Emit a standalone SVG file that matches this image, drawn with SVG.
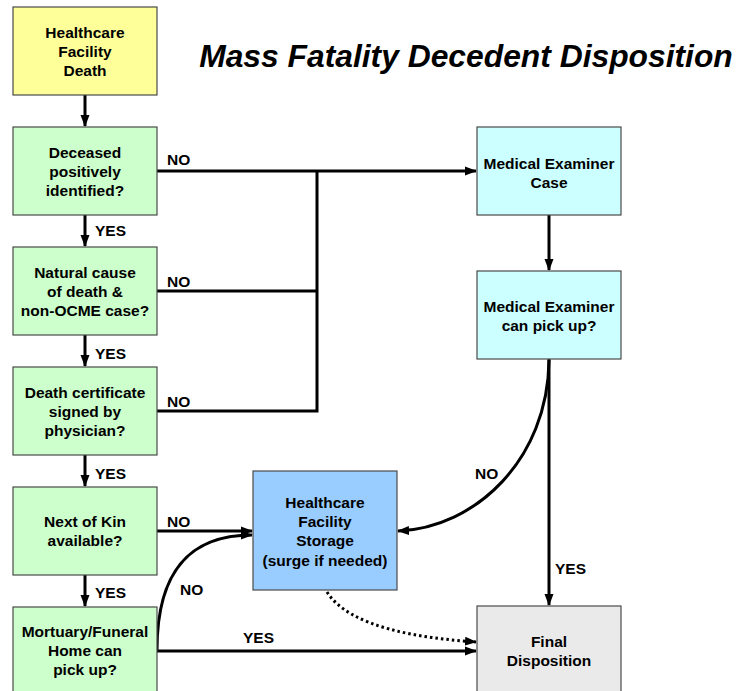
<svg xmlns="http://www.w3.org/2000/svg" width="740" height="691" viewBox="0 0 740 691">
<style>
.box{stroke:#4a4a4a;stroke-width:1.2}
.t{font-family:"Liberation Sans",Arial,sans-serif;font-weight:bold;font-size:15.5px;fill:#000;text-anchor:middle}
.l{font-family:"Liberation Sans",Arial,sans-serif;font-weight:bold;font-size:15.5px;fill:#000}
.c{fill:none;stroke:#000;stroke-width:3}
.title{font-family:"Liberation Sans",Arial,sans-serif;font-weight:bold;font-style:italic;font-size:31.8px;fill:#000;text-anchor:middle}
</style>
<defs>
<marker id="ah" markerUnits="userSpaceOnUse" markerWidth="12" markerHeight="12" viewBox="0 0 12 12" refX="11" refY="6" orient="auto">
<path d="M0,1.5 L12,6 L0,10.5 Z" fill="#000"/>
</marker>
</defs>
<rect width="740" height="691" fill="#fff"/>
<text class="title" x="466" y="67">Mass Fatality Decedent Disposition</text>

<g id="connectors">
<line class="c" x1="85" y1="95" x2="85" y2="126" marker-end="url(#ah)"/>
<line class="c" x1="85" y1="215" x2="85" y2="246" marker-end="url(#ah)"/>
<line class="c" x1="85" y1="335" x2="85" y2="366" marker-end="url(#ah)"/>
<line class="c" x1="85" y1="455" x2="85" y2="486" marker-end="url(#ah)"/>
<line class="c" x1="85" y1="575" x2="85" y2="606" marker-end="url(#ah)"/>
<line class="c" x1="157" y1="171" x2="476" y2="171" marker-end="url(#ah)"/>
<polyline class="c" points="157,291 317,291"/>
<polyline class="c" points="157,411 317,411 317,171"/>
<line class="c" x1="549" y1="215" x2="549" y2="270" marker-end="url(#ah)"/>
<line class="c" x1="549" y1="359" x2="549" y2="605" marker-end="url(#ah)"/>
<path class="c" d="M549,360 C548,460 475,528 398,531" marker-end="url(#ah)"/>
<line class="c" x1="157" y1="531" x2="252" y2="531" marker-end="url(#ah)"/>
<path class="c" d="M157,650 C157,565 195,535 252,535" marker-end="url(#ah)"/>
<line class="c" x1="157" y1="651" x2="476" y2="651" marker-end="url(#ah)"/>
<path class="c" d="M327,592 C350,628 420,638 476,642" stroke-dasharray="2.5,3" marker-end="url(#ah)"/>
<text class="l" x="95" y="236">YES</text>
<text class="l" x="95" y="359">YES</text>
<text class="l" x="95" y="479">YES</text>
<text class="l" x="95" y="598">YES</text>
<text class="l" x="167" y="165">NO</text>
<text class="l" x="167" y="287">NO</text>
<text class="l" x="167" y="407">NO</text>
<text class="l" x="167" y="527">NO</text>
<text class="l" x="180" y="595">NO</text>
<text class="l" x="243" y="643">YES</text>
<text class="l" x="475" y="479">NO</text>
<text class="l" x="555" y="574">YES</text>
</g>

<g id="n1"><rect class="box" x="13" y="7" width="144" height="88" fill="#ffff99"/>
<text class="t" x="85" y="38">Healthcare</text><text class="t" x="85" y="57">Facility</text><text class="t" x="85" y="76">Death</text></g>
<g id="n2"><rect class="box" x="13" y="127" width="144" height="88" fill="#ccffcc"/>
<text class="t" x="85" y="158">Deceased</text><text class="t" x="85" y="177">positively</text><text class="t" x="85" y="196">identified?</text></g>
<g id="n3"><rect class="box" x="13" y="247" width="144" height="88" fill="#ccffcc"/>
<text class="t" x="85" y="278">Natural cause</text><text class="t" x="85" y="297">of death &amp;</text><text class="t" x="85" y="316">non-OCME case?</text></g>
<g id="n4"><rect class="box" x="13" y="367" width="144" height="88" fill="#ccffcc"/>
<text class="t" x="85" y="398">Death certificate</text><text class="t" x="85" y="417">signed by</text><text class="t" x="85" y="436">physician?</text></g>
<g id="n5"><rect class="box" x="13" y="487" width="144" height="88" fill="#ccffcc"/>
<text class="t" x="85" y="527">Next of Kin</text><text class="t" x="85" y="546">available?</text></g>
<g id="n6"><rect class="box" x="13" y="607" width="144" height="90" fill="#ccffcc"/>
<text class="t" x="85" y="637">Mortuary/Funeral</text><text class="t" x="85" y="656">Home can</text><text class="t" x="85" y="675">pick up?</text></g>
<g id="n7"><rect class="box" x="477" y="127" width="144" height="88" fill="#ccffff"/>
<text class="t" x="549" y="169">Medical Examiner</text><text class="t" x="549" y="188">Case</text></g>
<g id="n8"><rect class="box" x="477" y="271" width="144" height="88" fill="#ccffff"/>
<text class="t" x="549" y="312">Medical Examiner</text><text class="t" x="549" y="331">can pick up?</text></g>
<g id="n9"><rect class="box" x="253" y="471" width="144" height="119" fill="#99ccff"/>
<text class="t" x="325" y="508">Healthcare</text><text class="t" x="325" y="527">Facility</text><text class="t" x="325" y="546">Storage</text><text class="t" x="325" y="566">(surge if needed)</text></g>
<g id="n10"><rect class="box" x="477" y="606" width="144" height="90" fill="#eaeaea"/>
<text class="t" x="549" y="647">Final</text><text class="t" x="549" y="666">Disposition</text></g>
</svg>
